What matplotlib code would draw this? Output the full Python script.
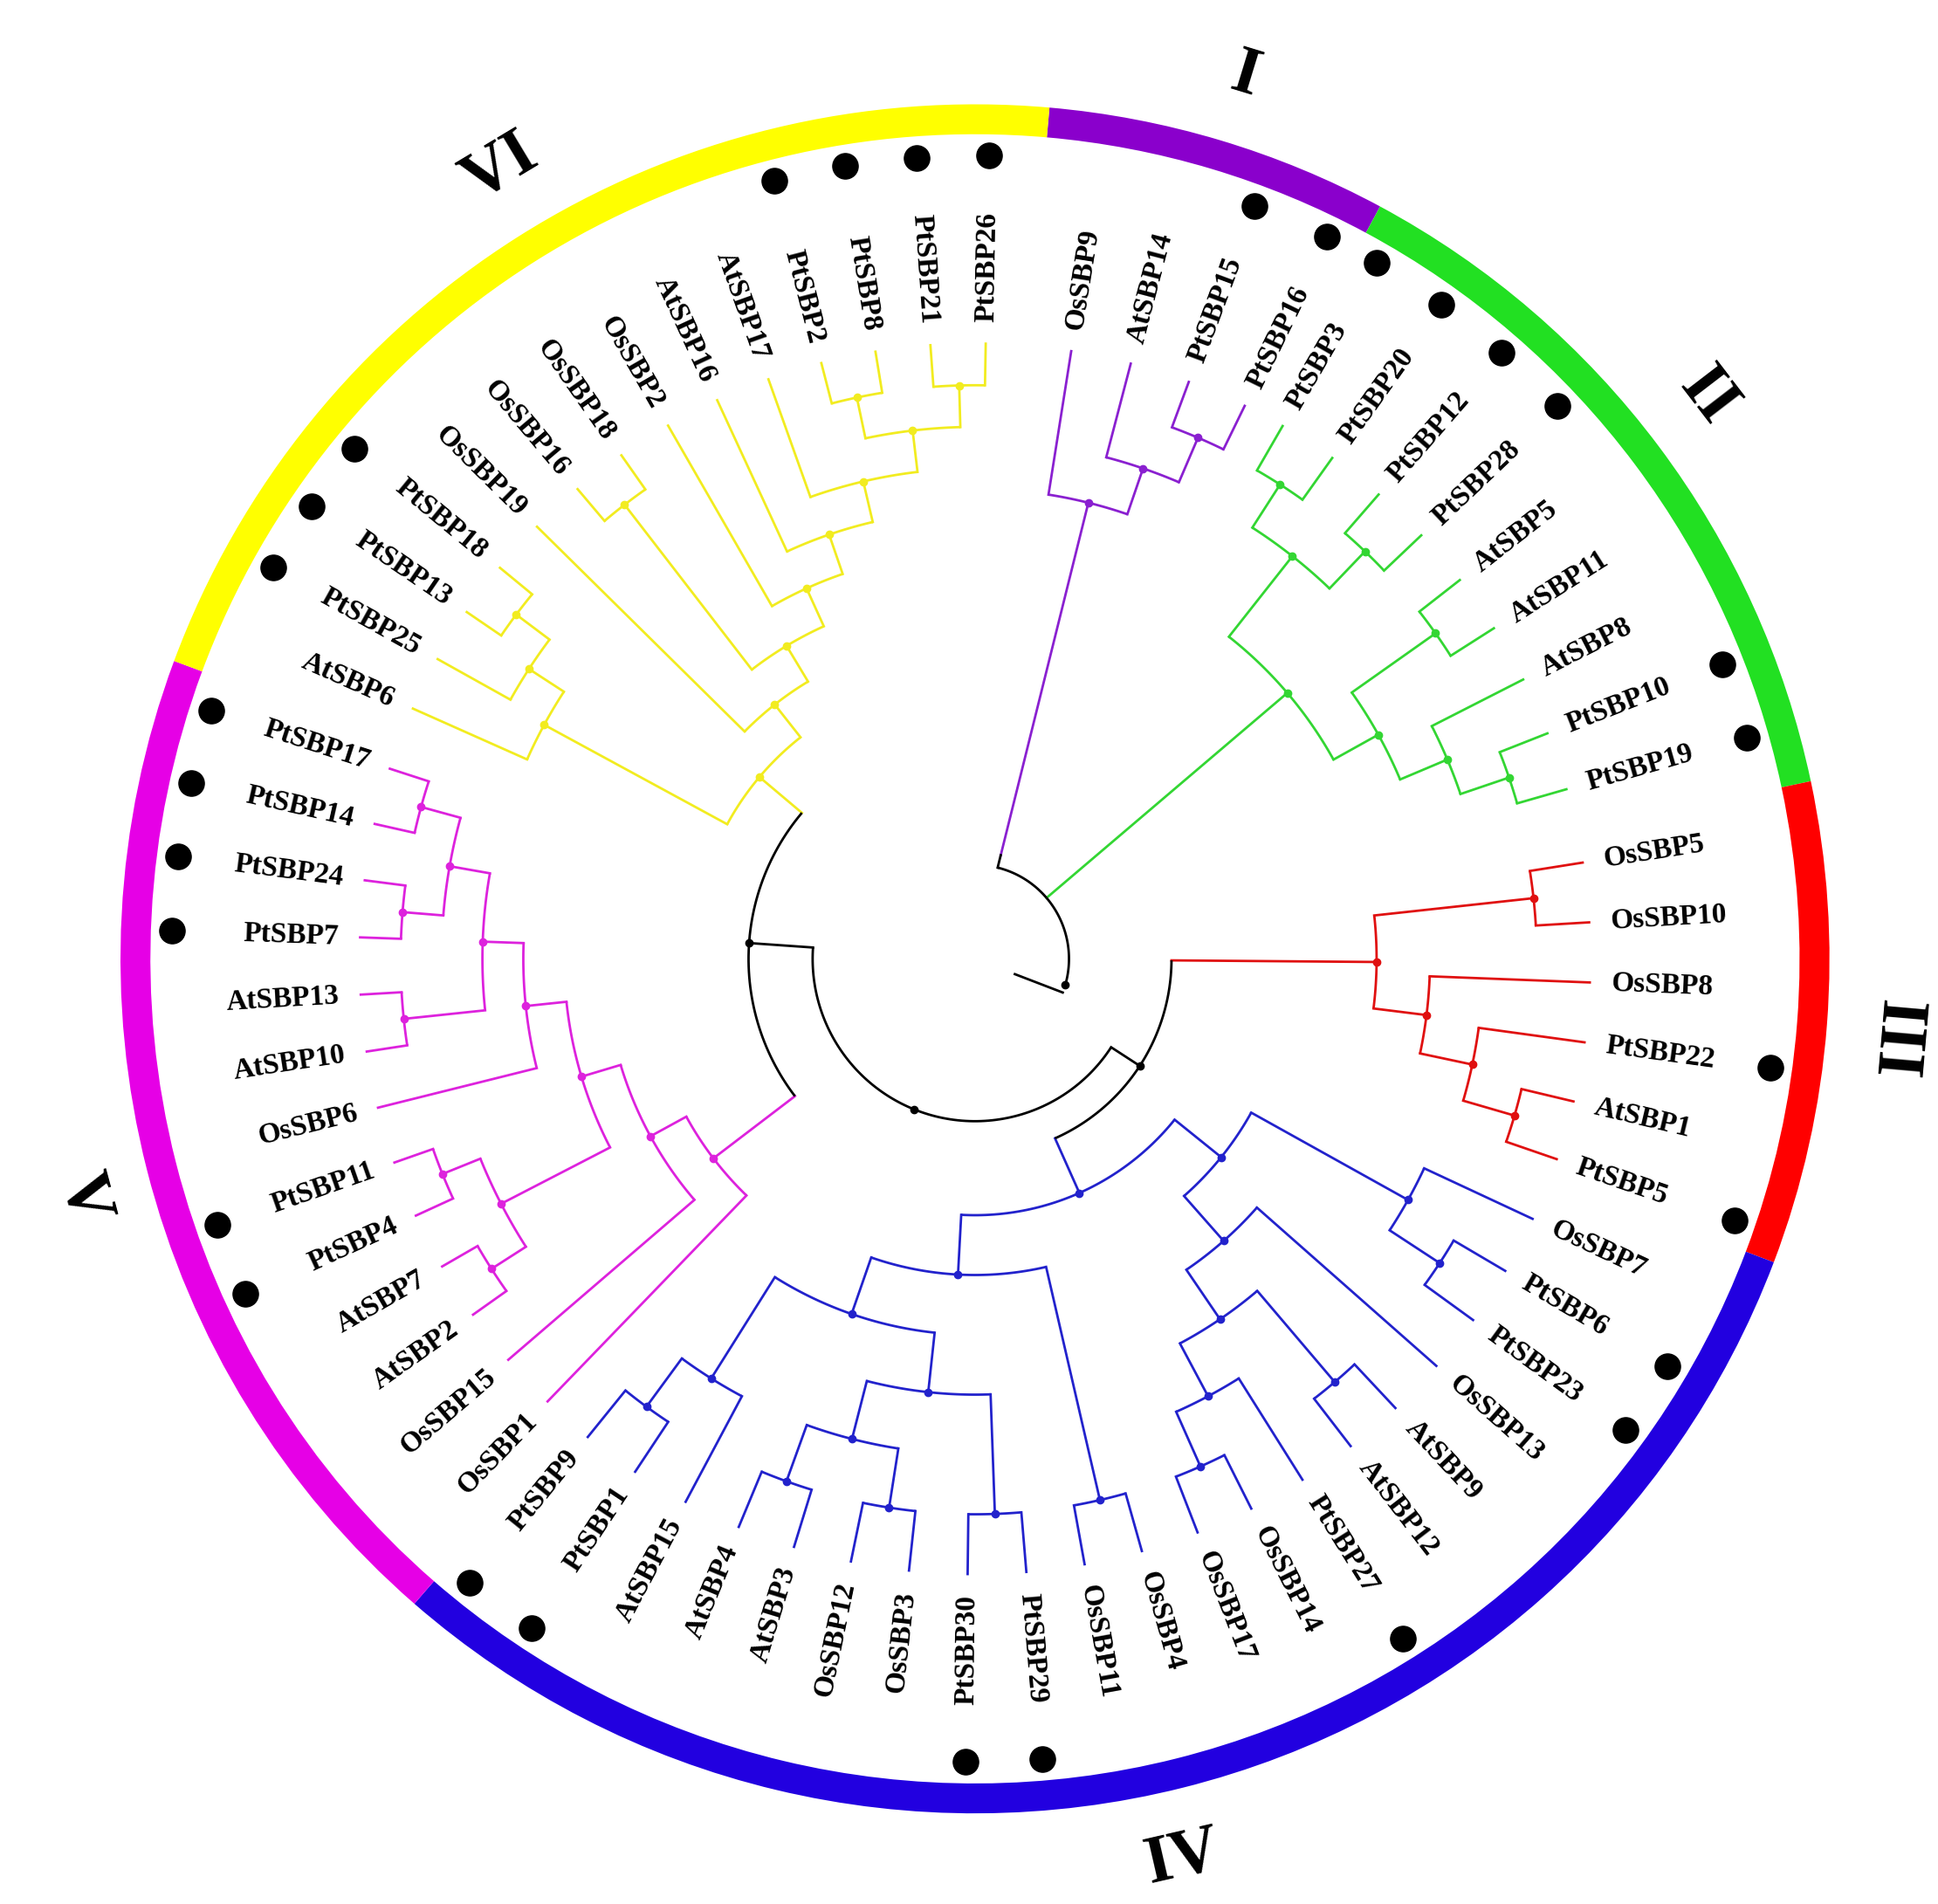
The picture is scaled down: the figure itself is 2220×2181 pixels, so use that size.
import numpy as np
import matplotlib
matplotlib.use("Agg")
import matplotlib.pyplot as plt
from matplotlib.patches import Wedge

# ---- data: clade topologies (nested lists), angle ranges, colours ----
clade_names = ["I", "II", "III", "IV", "V", "VI"]
clade_I = ["OsSBP9", ["AtSBP14", ["PtSBP15", "PtSBP16"]]]
clade_II = [[["PtSBP3", "PtSBP20"], ["PtSBP12", "PtSBP28"]],
            [["AtSBP5", "AtSBP11"], ["AtSBP8", ["PtSBP10", "PtSBP19"]]]]
clade_III = [["OsSBP5", "OsSBP10"], ["OsSBP8", ["PtSBP22", ["AtSBP1", "PtSBP5"]]]]
clade_IV = [[["OsSBP7", ["PtSBP6", "PtSBP23"]],
             ["OsSBP13", [["AtSBP9", "AtSBP12"], ["PtSBP27", ["OsSBP14", "OsSBP17"]]]]],
            [["OsSBP4", "OsSBP11"],
             [[["PtSBP29", "PtSBP30"], [["OsSBP3", "OsSBP12"], ["AtSBP3", "AtSBP4"]]],
              ["AtSBP15", ["PtSBP1", "PtSBP9"]]]]]
clade_V = ["OsSBP1", ["OsSBP15", [[["AtSBP2", "AtSBP7"], ["PtSBP4", "PtSBP11"]],
                                  ["OsSBP6", [["AtSBP10", "AtSBP13"],
                                              [["PtSBP7", "PtSBP24"], ["PtSBP14", "PtSBP17"]]]]]]]
clade_VI = [["AtSBP6", ["PtSBP25", ["PtSBP13", "PtSBP18"]]],
            ["OsSBP19", [["OsSBP16", "OsSBP18"],
                         ["OsSBP2", ["AtSBP16", ["AtSBP17", [["PtSBP2", "PtSBP8"], ["PtSBP21", "PtSBP26"]]]]]]]]
clade_trees = [clade_I, clade_II, clade_III, clade_IV, clade_V, clade_VI]
clade_angle_range = [(81, 64), (60, 16), (9, -19), (-25, -129), (-134, -198), (-204, -271)]
clade_root_r = [0.55, 0.48, 0.47, 0.30, 0.385, 0.33]
clade_stem_r = [0.125, 0.11, 0.23, 0.23, 0.265, 0.265]
ring_bounds = [(85, 61.7), (61.7, 12), (12, -20.8), (-20.8, -131), (-131, -200.4), (-200.4, -275)]
ring_colors = ["#8A00CC", "#22E022", "#FF0000", "#2200E0", "#E600E6", "#FFFF00"]
branch_colors = ["#8A20D0", "#33D633", "#E01010", "#2222CC", "#DD22DD", "#F2EC20"]
numeral_angles = [73, 37.5, -5, -77, -165, 121]
numeral_rot = [-17, -52.5, -95, 13, -75, 31]

TIP_R = 0.72
TEXT_R = 0.745
DOT_R = 0.94

fig = plt.figure(figsize=(22.2, 21.81), dpi=100)
ax = fig.add_axes([0, 0, 1, 1])
ax.set_xlim(-1.141, 1.127)
ax.set_ylim(-1.106, 1.122)
ax.set_aspect("equal")
ax.axis("off")


def pol(r, a):
    t = np.deg2rad(a)
    return r * np.cos(t), r * np.sin(t)


def flatten(t):
    return [t] if isinstance(t, str) else [x for c in t for x in flatten(c)]


def height(t):
    return 0 if isinstance(t, str) else 1 + max(height(c) for c in t)


def arc(r, a1, a2, color, lw=2.0):
    aa = np.linspace(a1, a2, 60)
    x, y = pol(r, aa)
    ax.plot(x, y, color=color, lw=lw, solid_capstyle="butt")


def radial(r1, r2, a, color, lw=2.0):
    x1, y1 = pol(r1, a)
    x2, y2 = pol(r2, a)
    ax.plot([x1, x2], [y1, y2], color=color, lw=lw)


def draw(t, angles, step, color, parent_r=None):
    if isinstance(t, str):
        a, r = angles[t], TIP_R
    else:
        r = TIP_R - step * height(t)
        child = [draw(c, angles, step, color, r) for c in t]
        ca = [c[0] for c in child]
        a = float(np.mean(ca))
        arc(r, min(ca), max(ca), color)
        ax.plot(*pol(r, a), "o", color=color, ms=6)
    if parent_r is not None:
        radial(parent_r, r, a, color)
    return a, r


stem_info = []
for i, tree in enumerate(clade_trees):
    leaves = flatten(tree)
    a0, a1 = clade_angle_range[i]
    angs = np.linspace(a0, a1, len(leaves))
    angles = dict(zip(leaves, angs))
    step = (TIP_R - clade_root_r[i]) / height(tree)
    a, r = draw(tree, angles, step, branch_colors[i])
    radial(clade_stem_r[i], r, a, branch_colors[i])
    stem_info.append(a)
    for name, ang in angles.items():
        na = ((ang + 180) % 360) - 180
        if -90 < na <= 92:
            rot, ha = na, "left"
        else:
            rot, ha = na - 180, "right"
        x, y = pol(TEXT_R, ang)
        ax.text(x, y, name, rotation=rot, rotation_mode="anchor", ha=ha, va="center",
                fontsize=24, fontweight="bold", family="Liberation Serif")
        if name.startswith("Pt"):
            ax.plot(*pol(DOT_R, ang), "o", color="black", ms=21)

# ---- backbone (black) ----
k = "black"
aI, aII, aIII, aIV, aV, aVI = stem_info
arc(0.265, aV, aVI, k)
aA = 176
ax.plot(*pol(0.265, aA), "o", color=k, ms=6)
arc(0.11, aII, aI, k)
radial(0.11, 0.125, aI, k)
aC = -16
arc(0.11, aC, aII, k)
ax.plot(*pol(0.11, aC), "o", color=k, ms=6)
radial(0.05, 0.11, aC - 5, k)
arc(0.23, aIV, aIII, k)
aB = -33
ax.plot(*pol(0.23, aB), "o", color=k, ms=6)
aD = -112
radial(0.19, 0.23, aB, k)
arc(0.19, aD, aB, k)
radial(0.19, 0.265, aA, k)
arc(0.19, aA, 360 + aD, k)
ax.plot(*pol(0.19, aD), "o", color=k, ms=6)

# ---- outer ring and numerals ----
for i in range(6):
    b1, b2 = ring_bounds[i]
    ax.add_patch(Wedge((0, 0), 1.0, min(b1, b2), max(b1, b2), width=0.035,
                       color=ring_colors[i], lw=0))
    na = numeral_angles[i]
    x, y = pol(1.08, na)
    ax.text(x, y, clade_names[i], rotation=numeral_rot[i], ha="center", va="center",
            rotation_mode="anchor", fontsize=56, fontweight="bold", family="Liberation Serif")

fig.savefig("out.png", dpi=100)
